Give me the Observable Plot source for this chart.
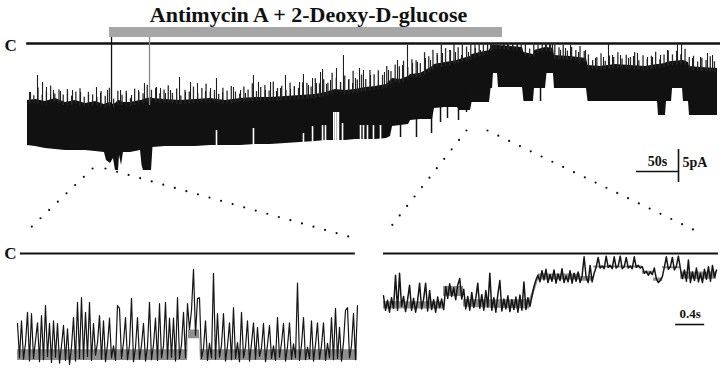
<!DOCTYPE html>
<html><head><meta charset="utf-8">
<script src="https://cdn.jsdelivr.net/npm/d3@7"></script>
<script src="https://cdn.jsdelivr.net/npm/@observablehq/plot@0.6"></script>
<style>
html,body{margin:0;padding:0;background:#fff;}
#fig{position:relative;width:720px;height:369px;overflow:hidden;background:#fff;}
#fig svg{position:absolute;left:0;top:0;}
</style></head><body><div id="fig"></div>
<script>
// ---------- DATA ----------
const titleText = "Antimycin A + 2-Deoxy-D-glucose";
const closedLabel = "C";
const drugStart = 97.6, drugEnd = 565.3;          // s, application bar
const artifactTime = [100.0, 145.2];              // s, solution-exchange artefacts

// main recording: envelope of the noisy trace (time s, current pA)
const mainTime = [0,9.5,21.4,33.3,45.2,57.1,69.0,80.9,91.6,94.0,98.8,102.3,104.7,108.3,109.5,111.9,114.2,122.6,134.5,136.3,138.0,147.6,149.3,164.2,182.1,199.9,217.8,235.6,253.5,271.3,289.2,307.0,324.9,342.7,354.6,366.5,378.4,390.3,402.2,414.1,427.2,432.0,434.4,443.9,453.4,455.8,467.7,482.0,484.3,497.4,511.7,514.1,527.2,529.0,539.1,549.8,551.6,553.4,554.5,559.3,560.5,574.8,589.1,590.8,602.1,603.3,616.4,618.2,625.9,627.1,646.2,665.2,667.0,681.9,699.7,717.6,735.4,749.7,750.9,759.2,760.4,766.4,767.6,779.5,780.6,786.6,787.8,800.9,821.1];
const mainUpper = [-8.64,-8.48,-8.79,-8.33,-8.94,-8.64,-9.09,-8.79,-9.24,-9.09,-8.94,-9.24,-9.09,-8.64,-8.64,-8.79,-8.94,-8.94,-8.64,-8.64,-8.48,-8.18,-8.33,-8.48,-8.64,-8.48,-8.33,-8.64,-8.33,-8.18,-8.18,-8.03,-7.88,-7.73,-7.42,-6.97,-7.12,-6.97,-6.67,-6.52,-6.21,-5.61,-5.30,-5.45,-5.00,-4.70,-4.55,-3.48,-3.18,-2.88,-2.58,-2.42,-1.97,-1.67,-1.36,-1.06,-0.45,-0.30,-0.30,-0.30,-0.30,-0.45,-0.61,-1.36,-1.67,-1.06,-0.61,-0.61,-0.76,-1.82,-1.97,-2.27,-3.33,-3.48,-3.18,-3.33,-3.48,-3.18,-3.18,-3.03,-2.88,-2.73,-2.73,-2.58,-2.58,-2.88,-3.48,-3.64,-3.79];
const mainLower = [-15.45,-15.61,-15.91,-16.06,-16.21,-16.21,-16.21,-16.36,-16.52,-17.73,-18.18,-17.42,-19.24,-19.24,-16.97,-18.48,-16.52,-16.52,-16.21,-18.48,-19.24,-19.24,-15.76,-15.61,-15.61,-15.61,-15.45,-15.45,-15.45,-15.30,-15.30,-15.15,-15.00,-14.85,-14.70,-14.70,-14.70,-14.55,-14.55,-14.55,-14.39,-14.09,-12.58,-12.42,-12.27,-11.67,-11.52,-11.52,-9.85,-9.70,-9.70,-10.15,-10.15,-8.94,-8.94,-8.94,-6.82,-6.82,-4.55,-4.55,-6.67,-6.67,-6.67,-8.79,-8.79,-6.82,-6.82,-4.55,-4.55,-6.82,-6.82,-6.82,-8.79,-8.79,-8.79,-8.79,-8.79,-8.79,-10.91,-10.91,-8.79,-8.79,-6.82,-6.82,-8.79,-8.79,-10.91,-10.91,-10.91];

// tall brief events rising above the band (s, pA)
const spikeTime = [11.9,17.9,22.6,30.9,53.6,82.1,95.2,110.7,132.1,139.2,153.5,158.3,180.9,194.0,202.3,224.9,245.1,268.9,274.9,289.2,307.0,323.7,328.4,339.2,348.7,351.1,367.7,376.0,386.8,395.1,399.8,417.7,440.3,452.2,458.2,479.6,493.9,503.4,516.5,524.8,539.1,547.4,551.0,554.5,566.4,571.2,577.2,583.1,616.4,621.2,624.8,634.3,646.2,655.7,691.4,705.7,725.9,737.8,761.6,773.5,778.3,809.2,
3.6,27.4,39.3,47.6,63.1,72.6,86.9,117.8,123.8,164.2,170.2,188.0,211.8,217.8,232.1,253.5,259.4,283.2,296.3,301.1,313.0,317.7,334.4,343.9,355.8,360.6,372.5,382.0,390.3,408.2,424.8,429.6,446.3,464.1,473.6,487.9,509.3,533.1,640.2,664.0,675.9,685.4,696.2,715.2,721.1,743.8,753.3,791.4,800.9,815.2];
const spikeTop = [-4.85,-5.91,-6.67,-7.12,-7.12,-6.67,-7.12,-7.12,-7.12,-6.06,-6.67,-6.82,-5.15,-5.91,-6.06,-5.30,-6.67,-4.85,-5.91,-5.91,-4.85,-5.91,-4.70,-5.30,-4.39,-3.94,-3.79,-1.82,-6.06,-3.79,-4.09,-5.61,-2.58,-0.30,-3.03,-2.58,-1.52,-1.06,-1.82,-1.36,-1.06,0,0,0,0,0,0,0,0,0,0,-1.06,-0.30,-1.36,0,-1.82,-1.52,-2.12,-1.06,0,0,-1.52,
-7.42,-7.73,-7.27,-7.58,-7.42,-7.88,-7.58,-7.58,-7.88,-7.58,-7.12,-7.42,-7.27,-6.82,-7.42,-7.12,-7.58,-7.12,-7.27,-6.82,-6.97,-6.52,-6.36,-6.06,-6.21,-5.61,-5.91,-5.61,-5.30,-4.85,-4.39,-4.09,-3.33,-2.88,-2.27,-1.82,-1.36,-0.76,-0.76,-1.06,-2.27,-2.12,-1.82,-2.27,-1.97,-2.12,-1.82,-2.27,-2.12,-1.82];

// fine flicker fringe on top of the band: sampled every 5 s from 2.5 s, height above band top (pA)
const fringeStart = 2.5, fringeStep = 5;
const fringeHeight = [1.2,0.6,1.8,0.9,1.4,2.1,0.7,1.5,1.0,1.9,0.8,1.3,2.0,0.9,1.6,1.1,0.7,1.8,1.2,2.2,
0.8,1.5,1.0,1.7,0.6,1.9,1.3,0.9,2.0,1.1,1.6,0.8,1.4,2.1,1.0,1.7,0.7,1.5,1.2,1.9,
0.9,1.6,2.2,1.0,1.3,0.8,1.8,1.4,2.0,1.1,0.7,1.7,1.2,2.1,0.9,1.5,1.8,1.0,2.3,1.3,
1.6,0.9,2.0,1.4,1.1,1.9,
1.8,1.2,2.4,1.5,2.0,1.3,2.6,1.7,1.1,2.2,1.6,2.8,1.4,2.0,1.2,2.5,1.8,2.3,1.5,2.7,1.3,2.1,1.9,2.6,1.4,2.2,
2.0,1.5,2.8,1.8,2.4,1.6,3.0,2.1,1.7,2.6,1.9,2.3,1.6,2.9,2.2,1.8,2.5,2.0,1.5,2.4,
1.2,0.8,1.5,0.6,1.8,1.0,1.4,0.7,1.6,1.1,1.9,1.3,0.9,2.0,1.2,1.6,0.8,1.4,1.0,1.7,
1.0,1.6,0.8,1.3,1.9,0.7,1.4,1.1,1.8,0.9,1.5,1.2,2.0,0.8,1.6,1.0,1.4,1.9,0.7,1.3,1.7,1.0,1.5,0.9,1.8,1.2,1.6,0.8,1.4,1.1,1.7,1.0];

// short upward gaps in the lower edge of the band (s, pA)
const notchTime = [224.9,268.9,328.4,339.2,351.1,354.6,364.5,366.5,368.5,370.0,374.9,396.3,399.8,404.6,411.7,420.1];
const notchTop  = [-13.18,-12.88,-13.64,-12.58,-12.42,-12.42,-10.45,-10.45,-10.45,-10.45,-12.12,-12.42,-12.42,-12.42,-12.42,-12.42];
// short downward excursions below the band (s, pA)
const dipTime   = [443.9,462.9,480.8,491.5,499.8,512.9,522.4,610.5];
const dipBottom = [-14.24,-14.24,-13.64,-11.97,-11.36,-11.67,-10.45,-8.79];

const scaleSeconds = 50, scalePA = 5, zoomScaleSeconds = 0.4;

// expanded traces (pA), uniformly sampled
const leftTrace = [-10.6,-15.8,-10.2,-16.0,-13.6,-8.9,-16.3,-9.1,-15.9,-13.2,-10.5,-16.4,-9.4,-16.1,-7.9,-15.6,-10.6,-16.5,-10.2,-15.7,-10.6,-16.6,-14.0,-10.9,-16.2,-11.4,-16.8,-14.2,-9.7,-16.3,-7.4,-15.9,-6.7,-16.0,-8.9,-15.6,-7.4,-16.2,-10.6,-15.4,-13.5,-9.4,-16.0,-10.2,-16.4,-13.8,-9.8,-15.8,-14.0,-16.2,-7.9,-8.3,-15.9,-13.5,-9.7,-16.1,-13.9,-6.8,-16.4,-14.2,-9.7,-16.0,-13.9,-10.6,-16.3,-14.1,-7.4,-16.1,-13.8,-9.8,-16.2,-7.6,-15.8,-14.0,-7.4,-16.0,-9.8,-15.7,-9.8,-16.3,-6.7,-15.9,-13.8,-8.9,-15.8,-7.6,-11.5,-8.6,-2.4,-12.4,-6.8,-6.7,-15.9,-14.4,-10.2,-16.2,-13.6,-15.8,-3.0,-16.0,-9.1,-15.7,-13.9,-9.1,-16.3,-14.0,-10.5,-16.1,-8.2,-15.9,-13.5,-16.4,-8.9,-15.8,-14.2,-10.2,-16.3,-13.7,-10.5,-16.0,-11.2,-15.6,-14.3,-10.6,-16.4,-13.8,-10.9,-15.9,-14.0,-16.2,-9.7,-15.7,-13.6,-10.6,-16.3,-14.1,-10.5,-16.0,-13.7,-15.8,-4.5,-16.2,-13.9,-9.7,-16.1,-14.2,-15.9,-10.2,-16.3,-13.8,-10.5,-16.0,-14.0,-10.5,-16.2,-13.6,-15.8,-9.7,-16.1,-8.3,-15.9,-11.2,-16.3,-13.5,-8.6,-8.2,-15.8,-14.0,-9.1,-16.1,-7.9];
const rightTrace = [-6.4,-8.6,-7.1,-8.9,-6.7,-8.3,-3.3,-8.6,-3.0,-8.0,-6.5,-8.8,-7.0,-4.8,-8.6,-6.8,-8.9,-7.2,-4.5,-8.4,-6.9,-4.5,-8.7,-5.6,-8.5,-7.0,-8.9,-6.6,-8.2,-6.9,-8.5,
-5.0,-6.8,-4.6,-6.5,-5.2,-7.0,-4.8,-3.8,-6.9,-5.4,
-8.4,-6.5,-8.6,-5.9,-8.2,-6.8,-4.5,-8.3,-6.2,-8.6,-5.6,-8.1,-3.0,
-8.6,-6.7,-8.9,-6.2,-4.1,-8.7,-6.9,-8.4,-6.4,-8.8,-7.0,-8.5,-6.6,-8.9,-6.3,-8.6,-4.3,-8.5,-6.7,-8.0,
-6.5,-5.0,-4.0,-3.3,
-4.3,-2.6,-4.0,-2.4,-4.4,-3.2,-4.2,-2.5,-4.5,-3.1,-4.1,-2.3,-4.4,-3.4,-4.3,-2.6,-4.5,-3.0,-4.2,-2.8,-4.4,
-3.4,-0.5,-3.6,-4.4,-1.8,-4.3,-3.0,
-2.1,-0.6,-2.2,-1.9,-2.3,-0.4,-2.1,-1.8,-2.3,-0.5,-2.2,-1.9,-0.4,-2.3,-2.0,-0.6,-2.2,-1.9,-2.3,-0.5,-2.1,-1.8,-2.2,-2.0,
-3.0,-2.7,-3.3,-2.8,-3.2,-2.2,
-3.8,-4.4,-4.1,-3.5,
-2.1,-0.5,-2.4,-2.0,-0.6,-2.5,-1.9,-0.4,-2.3,
-3.8,-2.5,-4.2,-1.0,-4.4,-2.8,-4.1,-2.2,-4.3,-3.0,-4.4,-2.4,-3.9,-2.0,-4.2,-1.8,-3.6,-2.5];

// dense core of the expanded traces (time s from panel start, pA)
const leftCoreTime = [0, 2.345, 2.359, 2.510, 2.524, 4.690];
const leftCoreLow  = [-16.2, -16.2, -12.9, -12.9, -16.2, -16.2];
const leftCoreHigh = [-14.6, -14.6, -11.6, -11.6, -14.6, -14.6];
const rightCoreTime = [0, 0.828, 0.829, 1.103, 1.104, 1.476, 2.014, 2.138, 2.717, 2.718, 2.897, 2.898, 3.572, 3.573, 3.724, 3.725, 3.848, 3.849, 4.097, 4.098, 4.593];
const rightCoreLow  = [-8.4, -8.4, -6.5, -6.5, -8.1, -8.3, -8.4, -4.0, -4.0, -4.2, -4.2, -2.2, -2.2, -3.1, -3.1, -4.2, -4.2, -2.3, -2.3, -3.9, -3.9];
const rightCoreHigh = [-7.3, -7.3, -5.0, -5.0, -7.0, -7.0, -7.0, -3.1, -3.1, -3.5, -3.5, -1.9, -1.9, -2.7, -2.7, -3.7, -3.7, -2.0, -2.0, -2.8, -2.8];

// ---------- DRAWING ----------
const W = 720, H = 369;
const serif = "'Liberation Serif','Times New Roman',serif";
const ink = "#111";
const fig = document.getElementById("fig");

const main = mainTime.map((t, i) => ({t, hi: mainUpper[i], lo: mainLower[i]}));
function upperAt(t) {
  const i = Math.max(1, Math.min(mainTime.length - 1, d3.bisectLeft(mainTime, t)));
  const t0 = mainTime[i-1], t1 = mainTime[i];
  const f = t1 === t0 ? 0 : (t - t0) / (t1 - t0);
  return mainUpper[i-1] + f * (mainUpper[i] - mainUpper[i-1]);
}
const spikes = spikeTime.map((t, i) => ({t, top: spikeTop[i], base: upperAt(t) - 0.6}));
const fringe = fringeHeight.map((h, i) => {
  const t = fringeStart + i * fringeStep, b = upperAt(t);
  return {t, top: Math.min(0, b + h), base: b - 0.6};
});
const notches = notchTime.map((t, i) => ({t, top: notchTop[i]}));
const dips = dipTime.map((t, i) => ({t, bottom: dipBottom[i]}));
const artifacts = artifactTime.map((t, i) => ({t, color: i === 0 ? "#111" : "#8a8a8a"}));

// zoom links (main-trace window -> corner of expanded panel, in main-plot units)
const links = [
  {x1: 77.4, y1: -18.94, x2: -4.8, y2: -28.94},
  {x1: 92.8, y1: -18.94, x2: 382.0, y2: -29.24},
  {x1: 522.4, y1: -13.18, x2: 426.0, y2: -28.79},
  {x1: 547.4, y1: -13.18, x2: 804.4, y2: -28.94}
];

const sbX = 724.7, sbY = -19.39, sbV = -16.06;
const txt = (size, anchor) => ({text: d => d, fontFamily: serif, fontWeight: "bold", fontSize: size, fill: ink, textAnchor: anchor, lineAnchor: "middle"});

const topPlot = Plot.plot({
  width: W, height: H, marginLeft: 27, marginRight: 3, marginTop: 0, marginBottom: 0,
  style: {background: "transparent", overflow: "visible"},
  x: {domain: [0, 821.1], axis: null},
  y: {domain: [-49.394, 6.515], axis: null},
  marks: [
    Plot.rect([{a: drugStart, b: drugEnd}], {x1: "a", x2: "b", y1: 0.91, y2: 2.42, fill: "#a6a6a6"}),
    Plot.text([titleText], {x: 334.4, y: 4.39, ...txt(22, "middle")}),
    Plot.ruleY([0], {x1: -1, x2: 825, stroke: ink, strokeWidth: 2.4}),
    Plot.text([closedLabel], {x: -20.2, y: -0.3, ...txt(17, "middle")}),
    Plot.areaY(main, {x: "t", y1: "lo", y2: "hi", fill: ink}),
    Plot.ruleX(notches, {x: "t", y1: "top", y2: -22, stroke: "#fff", strokeWidth: 1.6}),
    Plot.ruleX(dips, {x: "t", y1: "bottom", y2: d => d.bottom + 3.5, stroke: ink, strokeWidth: 1.5}),
    Plot.ruleX(fringe, {x: "t", y1: "top", y2: "base", stroke: "#2a2a2a", strokeWidth: 1.3}),
    Plot.ruleX(spikes, {x: "t", y1: "top", y2: "base", stroke: "#1e1e1e", strokeWidth: 1.1}),
    Plot.ruleX(artifacts, {x: "t", y1: 0.91, y2: -9.4, stroke: "color", strokeWidth: 1.3}),
    Plot.ruleY([sbY], {x1: sbX, x2: sbX + scaleSeconds, stroke: ink, strokeWidth: 1.6}),
    Plot.ruleX([sbX + scaleSeconds], {y1: sbV, y2: sbV - scalePA, stroke: ink, strokeWidth: 1.6}),
    Plot.text([`${scaleSeconds}s`], {x: sbX + scaleSeconds / 2, y: -17.95, ...txt(14, "middle")}),
    Plot.text([`${scalePA}pA`], {x: sbX + scaleSeconds + 4.8, y: -18.03, ...txt(14, "start")}),
    Plot.link(links, {x1: "x1", y1: "y1", x2: "x2", y2: "y2", stroke: ink, strokeWidth: 2.2, strokeLinecap: "round", strokeDasharray: "0,12"})
  ]
});
fig.appendChild(topPlot);

const pxPerPA = 6.6, closedY = 253;
const yDomBottom = [-(H - closedY) / pxPerPA, closedY / pxPerPA];

function panel(values, core, left, right, width, extra) {
  const span = (W - left - right) / 72.5;
  const dt = span / (values.length - 1);
  const data = values.map((v, i) => ({t: i * dt, v}));
  return Plot.plot({
    width: W, height: H, marginLeft: left, marginRight: right, marginTop: 0, marginBottom: 0,
    style: {background: "transparent", overflow: "visible"},
    x: {domain: [0, span], axis: null},
    y: {domain: yDomBottom, axis: null},
    marks: [
      Plot.areaY(core, {x: "t", y1: "lo", y2: "hi", fill: "#333", fillOpacity: 0.55}),
      Plot.lineY(data, {x: "t", y: "v", stroke: "#151515", strokeWidth: width}),
      ...extra(span)
    ]
  });
}
const toCore = (T, L, Hh) => T.map((t, i) => ({t, lo: L[i], hi: Hh[i]}));

fig.appendChild(panel(leftTrace, toCore(leftCoreTime, leftCoreLow, leftCoreHigh), 17, 363, 1.2, span => [
  Plot.ruleY([0], {x1: 0.04, x2: 4.66, stroke: ink, strokeWidth: 2}),
  Plot.text([closedLabel], {x: -0.097, y: 0, ...txt(17, "middle")})
]));

fig.appendChild(panel(rightTrace, toCore(rightCoreTime, rightCoreLow, rightCoreHigh), 383, 4, 1.5, span => [
  Plot.ruleY([0], {x1: 0, x2: 4.62, stroke: ink, strokeWidth: 2}),
  Plot.ruleY([-10.76], {x1: 4.03, x2: 4.03 + zoomScaleSeconds, stroke: ink, strokeWidth: 1.6}),
  Plot.text([`${zoomScaleSeconds}s`], {x: 4.03 + zoomScaleSeconds / 2, y: -9.09, ...txt(13, "middle")})
]));
</script>
</body></html>
